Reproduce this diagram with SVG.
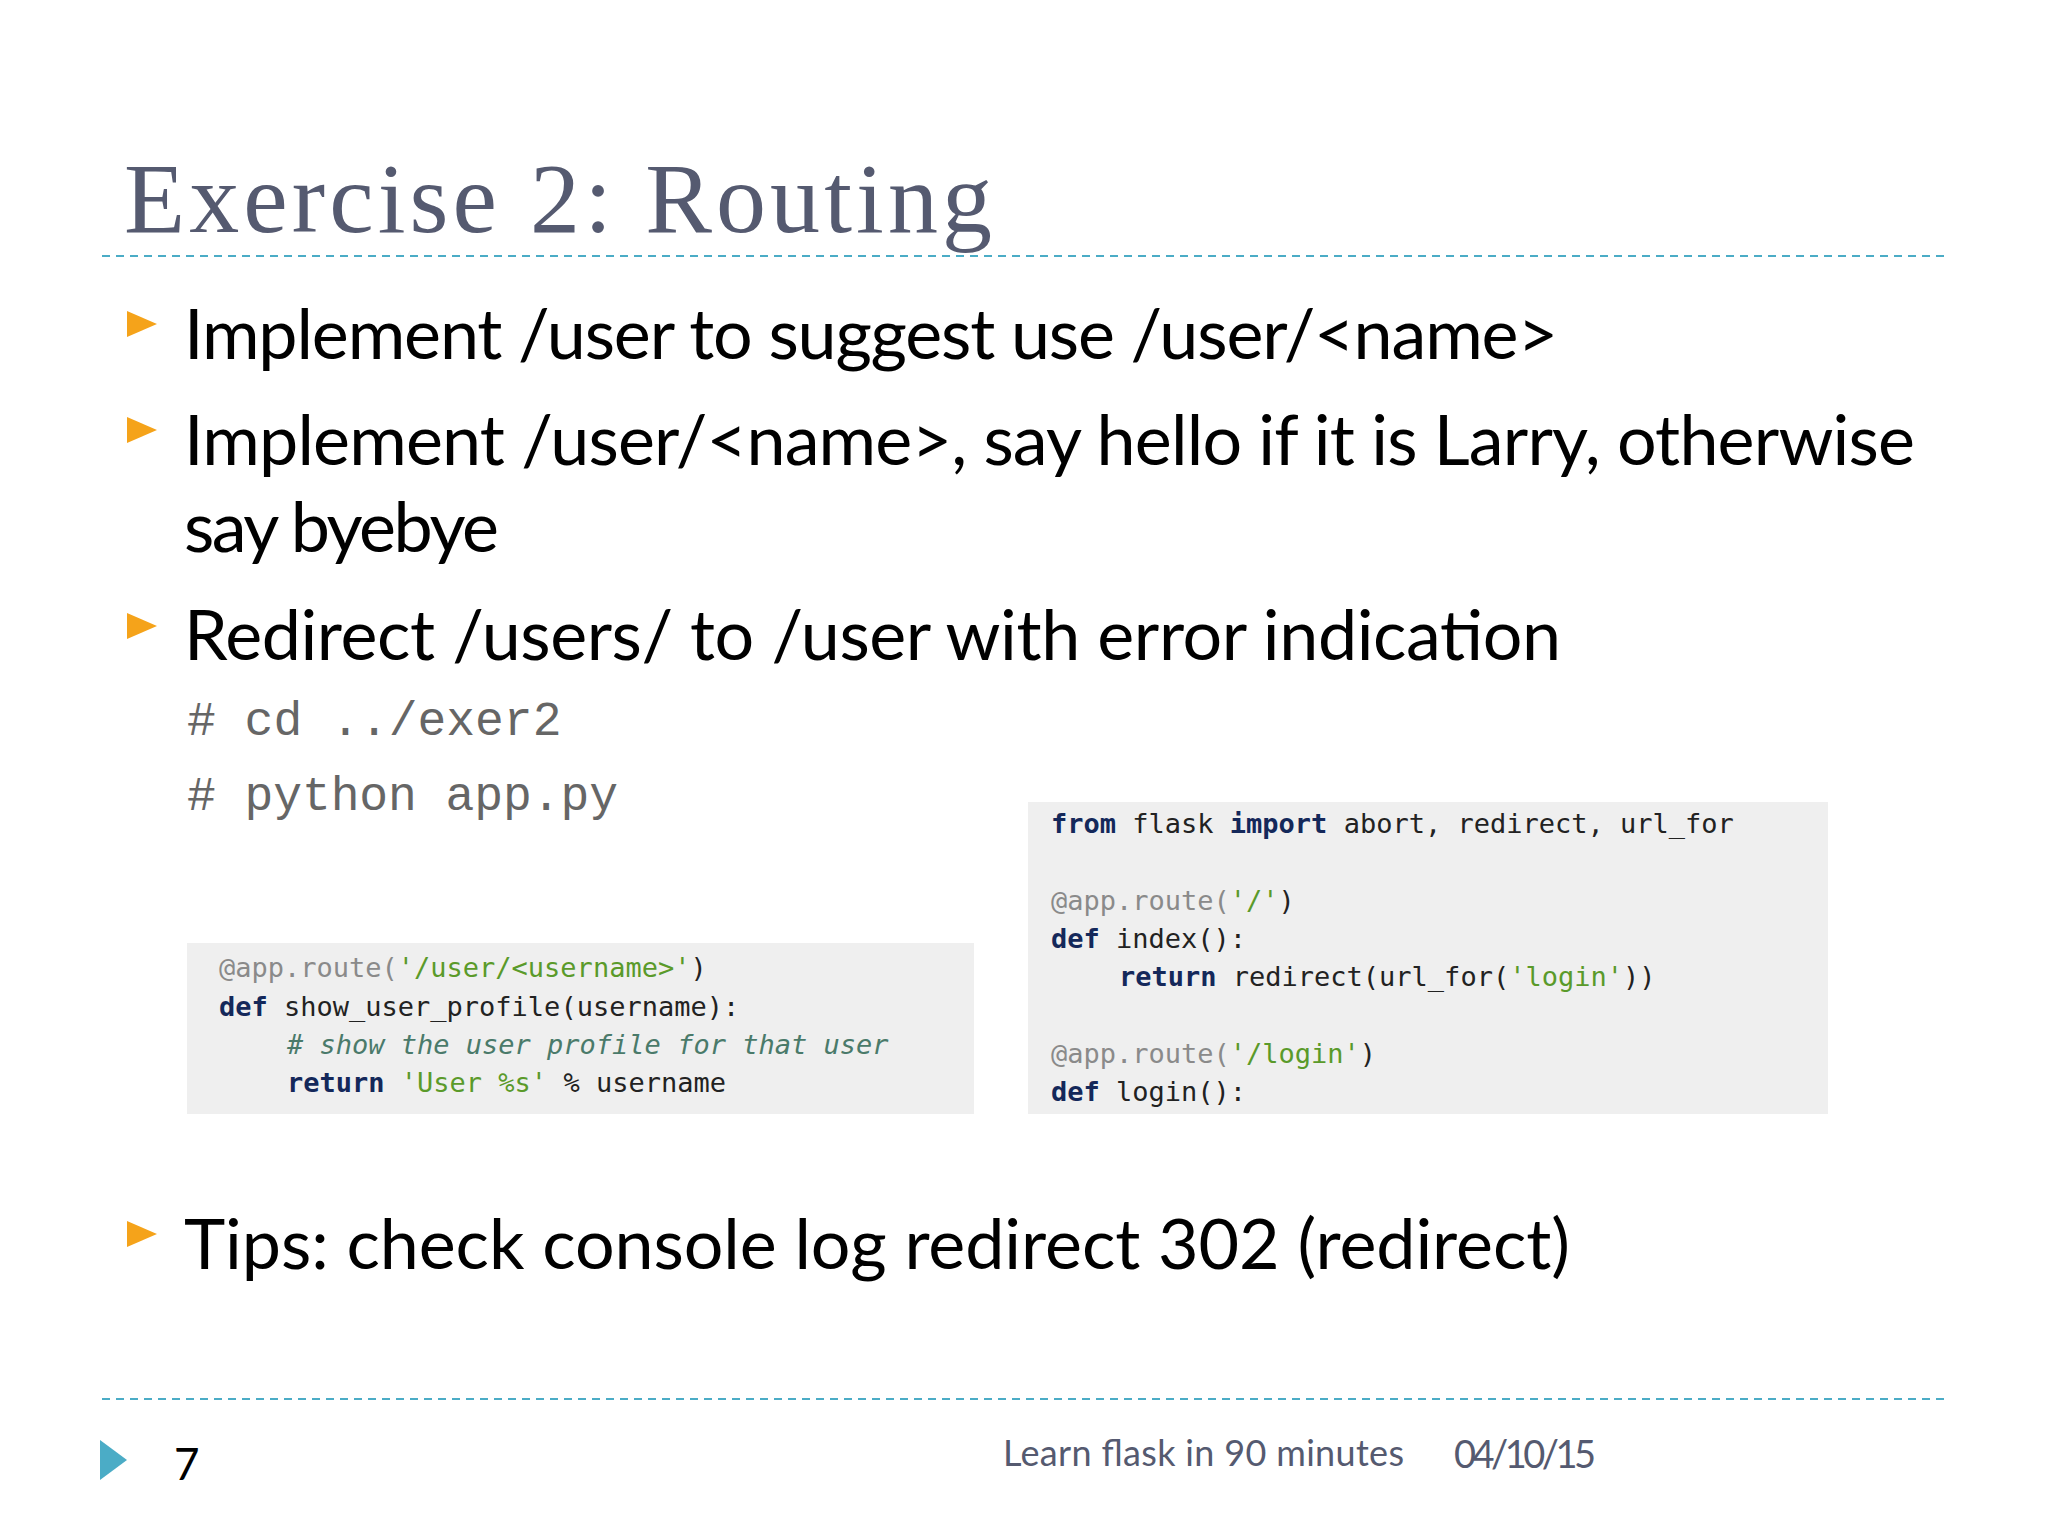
<svg xmlns="http://www.w3.org/2000/svg" width="2048" height="1536" viewBox="0 0 2048 1536">
<style>
.t{font-family:Lato,"Open Sans",sans-serif;fill:#000;font-size:70px}
.c{font-family:"DejaVu Sans Mono","Liberation Mono",monospace;font-size:27px;fill:#222}
.k{font-weight:bold;fill:#14285a}
.d{fill:#8a8a8a}
.s{fill:#5a9a2a}
.m{fill:#4a7a6a;font-style:italic}
.dash{stroke:#4bacc6;stroke-width:2;stroke-dasharray:8,6}
.b{fill:#f5a31a}
</style>
<rect width="2048" height="1536" fill="#fff"/>
<text x="124" y="232" font-family="'Liberation Serif',serif" font-size="100" fill="#555a70" textLength="868">Exercise 2: Routing</text>
<line class="dash" x1="102" y1="256" x2="1946" y2="256"/>
<g id="bullets">
<polygon class="b" points="127,311 157,324 127,337"/>
<text class="t" x="184" y="359" textLength="1374">Implement /user to suggest use /user/&lt;name&gt;</text>
<polygon class="b" points="127,417 157,430 127,443"/>
<text class="t" x="184" y="465" textLength="1731">Implement /user/&lt;name&gt;, say hello if it is Larry, otherwise</text>
<text class="t" x="184" y="552" textLength="315">say byebye</text>
<polygon class="b" points="127,613 157,626 127,639"/>
<text class="t" x="184" y="660" textLength="1377">Redirect /users/ to /user with error indication</text>
<text x="187" y="735" font-family="'Liberation Mono',monospace" font-size="48" fill="#666">#  cd ../exer2</text>
<text x="187" y="810" font-family="'Liberation Mono',monospace" font-size="48" fill="#666" textLength="431">#  python app.py</text>
<polygon class="b" points="127,1221 157,1234 127,1247"/>
<text class="t" x="184" y="1269" textLength="1386">Tips: check console log redirect 302 (redirect)</text>
</g>
<g id="code1">
<rect x="187" y="943" width="787" height="171" fill="#efefef"/>
<text class="c" x="219" y="977" xml:space="preserve"><tspan class="d">@app.route(</tspan><tspan class="s">'/user/&lt;username&gt;'</tspan>)</text>
<text class="c" x="219" y="1016" xml:space="preserve"><tspan class="k">def</tspan> show_user_profile(username):</text>
<text class="c m" x="287" y="1054">#  show the user profile for that user</text>
<text class="c" x="287" y="1092" xml:space="preserve"><tspan class="k">return</tspan> <tspan class="s">'User %s'</tspan> % username</text>
</g>
<g id="code2">
<rect x="1028" y="802" width="800" height="312" fill="#efefef"/>
<text class="c" x="1051" y="833" xml:space="preserve"><tspan class="k">from</tspan> flask <tspan class="k">import</tspan> abort, redirect, url_for</text>
<text class="c" x="1051" y="910"><tspan class="d">@app.route(</tspan><tspan class="s">'/'</tspan>)</text>
<text class="c" x="1051" y="948" xml:space="preserve"><tspan class="k">def</tspan> index():</text>
<text class="c" x="1119" y="986" xml:space="preserve"><tspan class="k">return</tspan> redirect(url_for(<tspan class="s">'login'</tspan>))</text>
<text class="c" x="1051" y="1063"><tspan class="d">@app.route(</tspan><tspan class="s">'/login'</tspan>)</text>
<text class="c" x="1051" y="1101" xml:space="preserve"><tspan class="k">def</tspan> login():</text>
</g>
<line class="dash" x1="102" y1="1399" x2="1946" y2="1399"/>
<g id="footer">
<polygon points="100,1440 127,1460 100,1480" fill="#4bacc6"/>
<text x="174" y="1480" font-family="Lato,sans-serif" font-size="44" fill="#000">7</text>
<text x="1003" y="1466" font-family="Lato,sans-serif" font-size="36" fill="#555a70" textLength="401">Learn flask in 90 minutes</text>
<text x="1454" y="1468" font-family="Lato,sans-serif" font-size="38" fill="#555a70" textLength="142">04/10/15</text>
</g>
</svg>
